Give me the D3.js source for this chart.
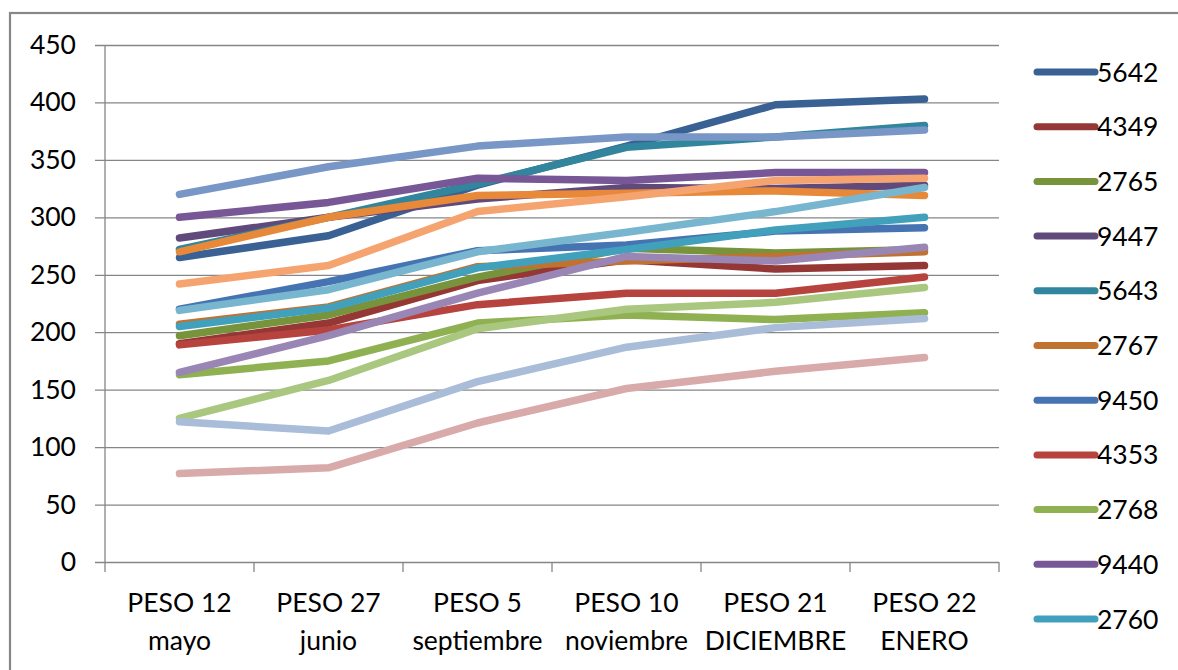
<!DOCTYPE html>
<html><head><meta charset="utf-8">
<script src="https://cdn.jsdelivr.net/npm/d3@7"></script>
<style>
html,body{margin:0;padding:0;background:#fff;}
svg{display:block;font-family:Lato,"Open Sans",sans-serif;}
</style></head>
<body>
<svg id="c" width="1178" height="670"></svg>
<script>
// ---- data ----
const categories = [["PESO 12","mayo"],["PESO 27","junio"],["PESO 5","septiembre"],["PESO 10","noviembre"],["PESO 21","DICIEMBRE"],["PESO 22","ENERO"]];
const yTicks = [0,50,100,150,200,250,300,350,400,450];
const seriesNames = ["5642","4349","2765","9447","5643","2767","9450","4353","2768","9440","2760","","","","","","","",""];
const seriesColors = ["#3A6194","#953735","#77933C","#604A7B","#31859C","#C27230","#4674B2","#B7433F","#8FB151","#775796","#41A1BC","#E8893A","#7896C6","#78B6CF","#F5A470","#9A86B5","#A9C77F","#A9BCD8","#D9AAAA"];
const s5642 = [265,284,328,362,398,403];
const s4349 = [190,208,245,263,255,258];
const s2765 = [197,215,248,273,269,272];
const s9447 = [282,300,316,326,325,328];
const s5643 = [272,300,329,361,370,380];
const s2767 = [207,222,257,262,266,270];
const s9450 = [220,244,271,276,288,291];
const s4353 = [189,202,224,234,234,248];
const s2768 = [163,175,208,215,211,217];
const s9440 = [300,313,334,332,339,339];
const s2760 = [205,221,256,272,289,300];
const s12 = [270,300,319,321,323,319];
const s13 = [320,344,362,370,370,376];
const s14 = [219,237,270,287,305,326];
const s15 = [242,258,305,318,332,334];
const s16 = [165,197,234,266,262,274];
const s17 = [125,158,203,220,226,239];
const s18 = [122,114,157,187,204,212];
const s19 = [77,82,121,151,166,178];
const seriesValues = [s5642,s4349,s2765,s9447,s5643,s2767,s9450,s4353,s2768,s9440,s2760,s12,s13,s14,s15,s16,s17,s18,s19];

// ---- layout ----
const svg = d3.select("#c");
const plot = {left:105, right:999, top:45, bottom:562};
const fs = 26.5;

svg.append("rect").attr("x",10).attr("y",13).attr("width",1200).attr("height",700)
  .attr("fill","#fff").attr("stroke","#878787").attr("stroke-width",2.2);

const x = d3.scaleBand().domain(categories.map((c,i)=>i)).range([plot.left,plot.right]).padding(0);
const y = d3.scaleLinear().domain([0,450]).range([plot.bottom,plot.top]);
const cx = i => x(i) + x.bandwidth()/2;

// gridlines + y axis
const yAxis = d3.axisLeft(y).tickValues(yTicks).tickSize(-(plot.right-plot.left)).tickPadding(20);
const gy = svg.append("g").attr("transform",`translate(${plot.left},0)`).call(yAxis);
gy.select(".domain").remove();
gy.selectAll(".tick line").attr("stroke","#868686").attr("stroke-width",1.3).attr("x1",-10);
gy.selectAll(".tick text").attr("font-size",fs).attr("fill","#000").attr("x",-29).attr("font-family","Lato,sans-serif");

// y axis line
svg.append("line").attr("x1",plot.left).attr("x2",plot.left).attr("y1",plot.top).attr("y2",plot.bottom+10)
  .attr("stroke","#868686").attr("stroke-width",1.3);

// x axis ticks + labels
const xt = svg.append("g");
categories.forEach((c,i)=>{
  xt.append("line").attr("x1",x(i)+x.bandwidth()).attr("x2",x(i)+x.bandwidth())
    .attr("y1",plot.bottom).attr("y2",plot.bottom+10).attr("stroke","#868686").attr("stroke-width",1.3);
  const t = xt.append("text").attr("x",cx(i)).attr("text-anchor","middle").attr("font-size",fs).attr("fill","#000");
  t.append("tspan").attr("x",cx(i)).attr("y",612).text(c[0]);
  t.append("tspan").attr("x",cx(i)).attr("y",650).text(c[1]);
});

// lines
const line = d3.line().x((d,i)=>cx(i)).y(d=>y(d));
svg.append("g").selectAll("path").data(seriesValues).join("path")
  .attr("d",line).attr("fill","none")
  .attr("stroke",(d,i)=>seriesColors[i]).attr("stroke-width",7.5)
  .attr("stroke-linecap","round").attr("stroke-linejoin","round");

// legend (only the entries that fit in view)
const lg = svg.append("g");
seriesNames.forEach((n,i)=>{
  const yy = 72 + i*54.7;
  if (!n || yy > 640) return;
  lg.append("line").attr("x1",1037).attr("x2",1095).attr("y1",yy).attr("y2",yy)
    .attr("stroke",seriesColors[i]).attr("stroke-width",7).attr("stroke-linecap","round");
  lg.append("text").attr("x",1097).attr("y",yy).attr("dy","0.36em").attr("font-size",fs).attr("fill","#000").text(n);
});
</script>
</body></html>
